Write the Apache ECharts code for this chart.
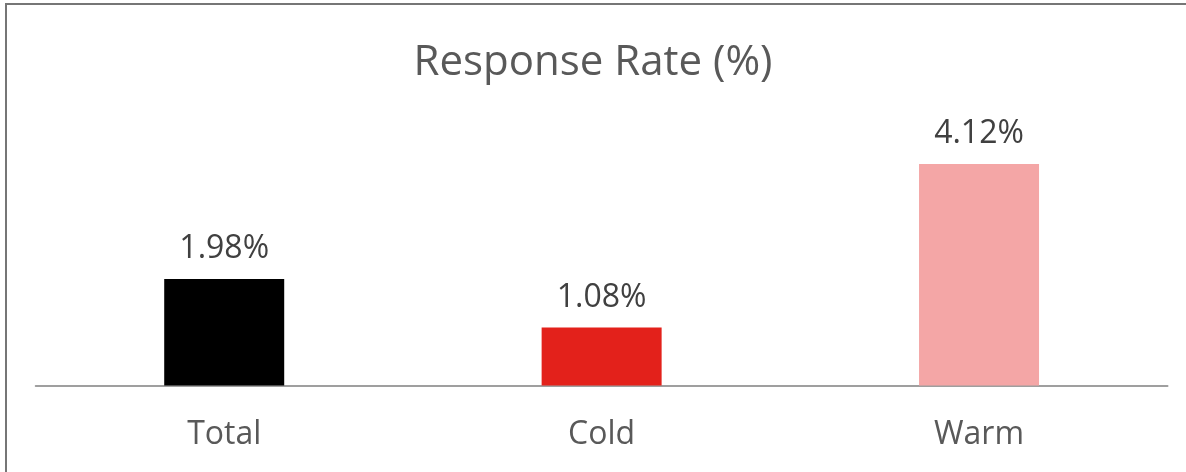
<!DOCTYPE html>
<html>
<head>
<meta charset="utf-8">
<script src="https://cdn.jsdelivr.net/npm/echarts@6/dist/echarts.min.js"></script>
<style>
html,body{margin:0;padding:0;background:#fff;}
#chart{width:1186px;height:472px;}
</style>
</head>
<body>
<div id="chart"></div>
<script>
const categories = ['Total', 'Cold', 'Warm'];
const values = [1.98, 1.08, 4.12];
const barColors = ['#000000', '#E3211B', '#F4A6A6'];
const titleText = 'Response Rate (%)';

const chart = echarts.init(document.getElementById('chart'));
chart.setOption({
  animation: false,
  backgroundColor: '#ffffff',
  title: {
    text: titleText,
    left: 'center',
    top: 37,
    textStyle: { fontFamily: 'Open Sans', fontSize: 42, fontWeight: 'normal', color: '#595959' }
  },
  grid: { left: 35.5, right: 18.25, top: 116.7, bottom: 86.5 },
  xAxis: {
    type: 'category',
    data: categories,
    axisLine: { show: true, lineStyle: { color: '#808080', width: 1.5 } },
    axisTick: { show: false },
    axisLabel: { margin: 33, fontFamily: 'Open Sans', fontSize: 32, color: '#595959' }
  },
  yAxis: {
    type: 'value', min: 0, max: 5,
    show: false,
    splitLine: { show: false }
  },
  graphic: [{
    type: 'polyline',
    shape: { points: [[6, 472], [6, 4], [1186, 4]] },
    style: { stroke: '#767676', lineWidth: 2, fill: null },
    silent: true
  }],
  series: [{
    type: 'bar',
    barWidth: 120,
    data: values.map((v, i) => ({ value: v, itemStyle: { color: barColors[i] } })),
    label: {
      show: true,
      position: 'top',
      distance: 14,
      fontFamily: 'Open Sans',
      fontSize: 32,
      color: '#404040',
      formatter: p => p.value.toFixed(2) + '%'
    }
  }]
});
</script>
</body>
</html>
